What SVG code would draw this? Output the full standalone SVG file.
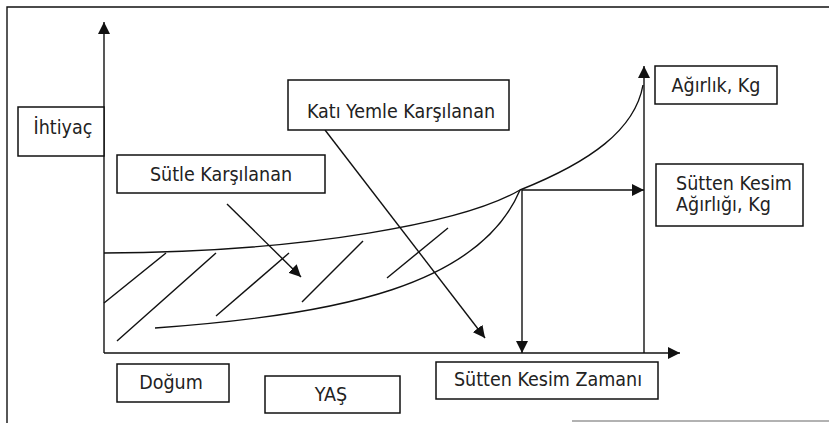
<svg xmlns="http://www.w3.org/2000/svg" width="829" height="423" viewBox="0 0 829 423">
<style>
.box{fill:#fff;stroke:#111;stroke-width:1.5}
.ln{fill:none;stroke:#111;stroke-width:1.4}
.lbl{font-family:"DejaVu Sans Condensed","Liberation Sans",Arial,sans-serif;font-stretch:condensed;font-size:19.5px;fill:#222}
.c{text-anchor:middle}
</style>
<defs>
<marker id="ah" viewBox="0 0 12 12" refX="12" refY="6" markerWidth="12" markerHeight="12" markerUnits="userSpaceOnUse" orient="auto">
<path d="M0,0 L12,6 L0,12 Z" fill="#111"/>
</marker>
</defs>
<rect width="829" height="423" fill="#fff"/>
<g id="frame" class="ln">
<path d="M7,423 L7,7 L829,7"/>
<path d="M572,421 L829,421" stroke="#999"/>
</g>
<g id="connectors" class="ln">
<path d="M104,353 L104,22" marker-end="url(#ah)"/>
<path d="M104,353 L680,353" marker-end="url(#ah)"/>
<path d="M644,353 L644,66" marker-end="url(#ah)"/>
<path d="M522,190 L522,353" marker-end="url(#ah)"/>
<path d="M522,190 L644,190" marker-end="url(#ah)"/>
<path d="M104,253 C310,252 465,222 520,190 C590,162 635,130 643,85"/>
<path d="M155,328 C340,315 480,285 520,190"/>
<path d="M104,303 L166,253"/>
<path d="M117,341 L216,253"/>
<path d="M216,316 L289,253"/>
<path d="M302,302 L363,241"/>
<path d="M387,278 L448,228"/>
<path d="M227,204 L301,277" marker-end="url(#ah)"/>
<path d="M325,130 L485,338" marker-end="url(#ah)"/>
</g>
<g id="ihtiyac"><rect class="box" x="18" y="107" width="86" height="49"/><text class="lbl c" x="63" y="134">İhtiyaç</text></g>
<g id="sutle"><rect class="box" x="117" y="155" width="208" height="38"/><text class="lbl c" x="221" y="181">Sütle Karşılanan</text></g>
<g id="kati"><rect class="box" x="288" y="80" width="221" height="50"/><text class="lbl c" x="401" y="118">Katı Yemle Karşılanan</text></g>
<g id="agirlik"><rect class="box" x="655" y="66" width="122" height="38"/><text class="lbl c" x="716" y="92">Ağırlık, Kg</text></g>
<g id="sutten-kesim-agirligi"><rect class="box" x="656" y="164" width="147" height="62"/><text class="lbl" x="676" y="190">Sütten Kesim</text><text class="lbl" x="676" y="211">Ağırlığı, Kg</text></g>
<g id="dogum"><rect class="box" x="117" y="364" width="112" height="38"/><text class="lbl c" x="171" y="389">Doğum</text></g>
<g id="yas"><rect class="box" x="265" y="376" width="135" height="37"/><text class="lbl c" x="331" y="401">YAŞ</text></g>
<g id="sutten-kesim-zamani"><rect class="box" x="436" y="362" width="222" height="37"/><text class="lbl c" x="548" y="386">Sütten Kesim Zamanı</text></g>
</svg>
